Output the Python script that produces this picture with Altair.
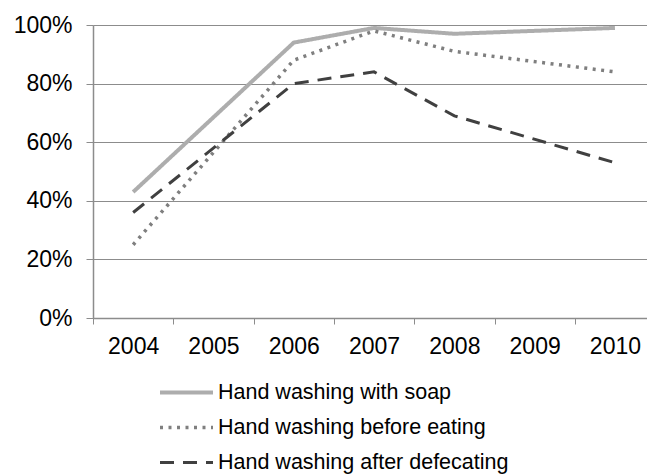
import altair as alt
import pandas as pd

# Survey years and the share of respondents for each hand-washing practice
years = [2004, 2005, 2006, 2007, 2008, 2009, 2010]
series = [
    "Hand washing with soap",
    "Hand washing before eating",
    "Hand washing after defecating",
]
with_soap = [43, None, 94, 99, 97, None, 99]
before_eating = [25, None, 88, 98, 91, None, 84]
after_defecating = [36, None, 80, 84, 69, None, 53]

rows = []
for name, vals in zip(series, [with_soap, before_eating, after_defecating]):
    for yr, v in zip(years, vals):
        if v is not None:
            rows.append({"year": yr, "series": name, "share": v / 100})
df = pd.DataFrame(rows)

FONT = "Liberation Sans"
GRID = "#8C8C8C"
STEP = 80.3            # pixels per year
PLOT_W = 554
PLOT_H = 293

# One legend shared by colour, dash and width
legend = alt.Legend(
    title=None,
    orient="none",
    legendX=65,
    legendY=350,
    direction="vertical",
    symbolType="stroke",
    symbolSize=2809,
    clipHeight=35,
    labelFontSize=21.5,
    labelFont=FONT,
    labelColor="#000000",
    labelOffset=3,
    labelLimit=0,
    rowPadding=0,
)

lines = alt.Chart(df).mark_line(strokeCap="butt", strokeJoin="miter").encode(
    x=alt.X(
        "year:Q",
        scale=alt.Scale(domain=[2003.5, 2003.5 + PLOT_W / STEP], nice=False, zero=False),
        axis=alt.Axis(
            values=years,
            format="d",
            title=None,
            grid=False,
            tickOffset=-STEP / 2,
            labelOffset=STEP / 2,
            tickSize=6,
            tickColor=GRID,
            domainColor=GRID,
            domainWidth=1.5,
            labelPadding=11,
            labelFontSize=23,
            labelFont=FONT,
            labelColor="#000000",
        ),
    ),
    y=alt.Y(
        "share:Q",
        scale=alt.Scale(domain=[0, 1], nice=False),
        axis=alt.Axis(
            values=[0, 0.2, 0.4, 0.6, 0.8, 1.0],
            format=".0%",
            title=None,
            grid=True,
            gridColor=GRID,
            gridWidth=1.2,
            tickSize=7,
            tickColor=GRID,
            domainColor=GRID,
            domainWidth=1.5,
            labelPadding=14,
            labelFontSize=23,
            labelFont=FONT,
            labelColor="#000000",
        ),
    ),
    color=alt.Color(
        "series:N",
        sort=series,
        scale=alt.Scale(domain=series, range=["#ADADAD", "#7F7F7F", "#404040"]),
        legend=legend,
    ),
    strokeDash=alt.StrokeDash(
        "series:N",
        sort=series,
        scale=alt.Scale(domain=series, range=[[1, 0], [3, 5.5], [14, 9]]),
        legend=legend,
    ),
    strokeWidth=alt.StrokeWidth(
        "series:N",
        sort=series,
        scale=alt.Scale(domain=series, range=[4, 3, 4.5]),
        legend=legend,
    ),
)

chart = lines.properties(
    width=PLOT_W,
    height=PLOT_H,
    autosize=alt.AutoSizeParams(type="none"),
    padding={"left": 93, "top": 25, "right": 0, "bottom": 157},
).configure_view(stroke=None).configure(background="white")

chart.save("out.html", embed_options={"renderer": "svg", "actions": False})
